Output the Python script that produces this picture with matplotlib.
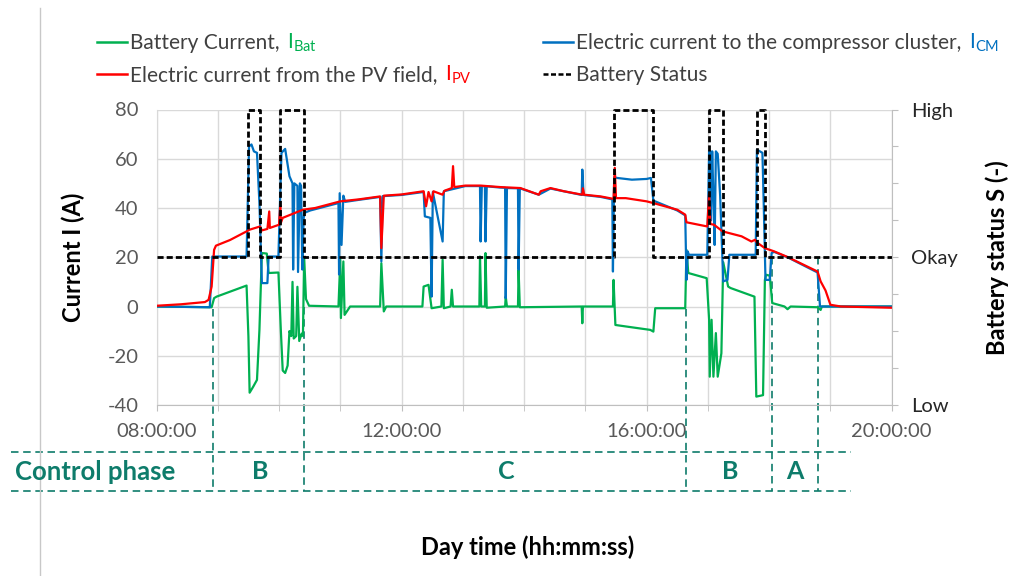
import matplotlib
matplotlib.use('Agg')
import matplotlib.pyplot as plt
from matplotlib.lines import Line2D
import numpy as np

plt.rcParams['font.family'] = ['Lato', 'DejaVu Sans']
plt.rcParams['axes.unicode_minus'] = False

# time of day in decimal hours, currents in A
t_pv = [8.00, 8.40, 8.79, 8.85, 8.90, 8.94, 8.97, 9.20, 9.47, 9.52, 9.69, 9.72,
        9.81, 9.84, 9.85, 10.00, 10.02, 10.03, 10.06, 10.39, 10.59, 11.00, 11.30,
        11.65, 11.67, 11.71, 12.00, 12.36, 12.40, 12.44, 12.49, 12.52, 12.67, 12.70,
        12.82, 12.84, 12.86, 13.04, 13.29, 13.61, 13.94, 14.24, 14.27, 14.43, 14.65,
        14.95, 14.96, 14.98, 15.25, 15.46, 15.48, 15.50, 15.66, 16.00, 16.11, 16.50,
        16.63, 16.65, 16.99, 17.02, 17.04, 17.10, 17.24, 17.55, 17.71, 17.77, 17.80,
        17.93, 18.08, 18.30, 18.79, 18.84, 18.92, 19.00, 19.17, 20.00]
i_pv = [0.3, 0.9, 1.8, 2.7, 8.1, 23.0, 24.7, 27.0, 30.5, 31.2, 32.5, 30.9,
        31.5, 38.6, 31.9, 33.2, 41.0, 34.0, 36.0, 39.3, 40.0, 42.7, 43.5,
        44.7, 23.7, 45.0, 45.5, 46.8, 40.7, 46.5, 42.7, 46.8, 45.4, 47.0,
        48.1, 57.0, 48.5, 49.1, 49.1, 48.5, 48.1, 45.4, 46.8, 48.1, 46.8,
        45.4, 48.0, 45.4, 44.7, 43.7, 56.3, 44.0, 44.0, 42.7, 42.0, 39.3,
        37.3, 34.2, 32.5, 46.0, 33.5, 33.2, 30.5, 28.5, 26.4, 27.1, 26.0,
        23.7, 22.4, 20.1, 14.2, 10.2, 6.5, 0.7, 0.0, -0.5]

t_cm = [8.00, 8.87, 8.91, 9.47, 9.51, 9.55, 9.59, 9.64, 9.68, 9.72, 9.81, 9.83,
        9.99, 10.04, 10.10, 10.17, 10.22, 10.23, 10.25, 10.30, 10.31, 10.34, 10.36,
        10.38, 10.40, 10.41, 10.51, 10.97, 10.98, 10.99, 11.02, 11.05, 11.08, 11.30,
        11.65, 11.67, 11.69, 12.00, 12.36, 12.38, 12.47, 12.49, 12.51, 12.67, 12.69,
        13.04, 13.28, 13.29, 13.31, 13.36, 13.37, 13.39, 13.61, 13.69, 13.70, 13.72,
        13.90, 13.91, 13.93, 14.24, 14.43, 14.94, 14.95, 14.97, 15.25, 15.44, 15.45,
        15.47, 15.52, 15.76, 16.00, 16.07, 16.11, 16.50, 16.63, 16.65, 16.67, 16.69,
        16.99, 17.02, 17.04, 17.05, 17.07, 17.09, 17.11, 17.13, 17.16, 17.20, 17.25,
        17.32, 17.35, 17.78, 17.80, 17.89, 17.91, 17.94, 18.01, 18.04, 18.08, 18.30,
        18.79, 18.83, 20.00]
i_cm = [0.0, -0.3, 20.3, 20.3, 65.0, 65.8, 63.0, 62.4, 42.0, 9.5, 9.5, 20.3,
        20.3, 62.4, 64.0, 52.9, 50.0, 15.0, 50.0, 49.0, 14.0, 50.0, 49.0,
        15.0, 35.0, 38.0, 39.0, 42.0, 13.0, 46.0, 25.0, 45.0, 42.5, 43.3,
        44.5, 18.3, 44.8, 45.3, 46.5, 36.6, 36.0, 4.0, 46.5, 26.4, 46.8,
        48.9, 48.9, 26.4, 48.9, 48.8, 26.4, 48.8, 48.3, 48.2, 3.4, 48.1,
        48.0, 15.0, 48.0, 45.4, 47.9, 45.3, 55.6, 45.3, 44.5, 43.5, 14.2,
        52.5, 52.2, 51.5, 51.8, 52.2, 43.0, 39.0, 37.0, 10.8, 22.4, 21.0,
        21.0, 63.0, 63.0, 35.0, 63.0, 45.0, 25.0, 63.0, 62.0, 45.0, 10.2,
        10.8, 21.0, 21.0, 63.7, 62.4, 43.0, 10.8, 10.8, 21.7, 22.2, 20.0,
        13.8, 0.0, 0.0]

t_bat = [8.00, 8.90, 8.94, 8.98, 9.47, 9.50, 9.52, 9.58, 9.64, 9.68, 9.72, 9.80,
         9.83, 9.99, 10.03, 10.06, 10.10, 10.14, 10.17, 10.20, 10.22, 10.24, 10.28,
         10.30, 10.33, 10.37, 10.39, 10.41, 10.44, 10.49, 10.97, 11.00, 11.01, 11.05,
         11.07, 11.16, 11.65, 11.67, 11.71, 11.75, 12.34, 12.36, 12.44, 12.49, 12.65,
         12.67, 12.69, 12.80, 12.82, 12.84, 13.27, 13.28, 13.30, 13.36, 13.37, 13.39,
         13.69, 13.70, 13.72, 13.90, 13.91, 13.93, 14.94, 14.95, 14.96, 15.45, 15.46,
         15.49, 15.66, 16.06, 16.11, 16.14, 16.63, 16.65, 16.68, 16.98, 17.02, 17.03,
         17.06, 17.09, 17.13, 17.16, 17.22, 17.25, 17.33, 17.37, 17.76, 17.79, 17.90,
         17.93, 17.95, 18.01, 18.05, 18.25, 18.30, 18.35, 18.79, 18.81, 18.84, 18.86,
         20.00]
i_bat = [0.0, -0.3, 3.4, 4.0, 8.5, -12.0, -35.0, -32.5, -29.8, -9.5, 21.7, 21.5,
         13.6, 13.8, -10.0, -26.0, -27.0, -24.0, -10.0, -12.0, 10.0, -13.0, -12.0,
         8.0, -14.0, -11.0, -12.0, 20.0, 3.0, 0.3, 0.0, 19.0, -4.7, 18.3,
         -3.4, 0.0, 0.0, 17.6, -2.0, 0.0, 0.0, 8.1, 8.8, -0.7, 0.0,
         19.0, -0.7, 0.0, 6.8, 0.0, 0.0, 20.3, 0.0, 0.0, 21.7, -0.5,
         0.0, 4.0, 0.0, 0.0, 15.0, -0.3, 0.0, -6.8, 0.0, 0.0, 10.8,
         -7.5, -8.1, -9.5, -10.2, -0.7, -0.7, 23.0, 13.6, 11.5, -5.4, -28.5,
         -5.4, -28.5, -10.8, -28.5, -19.0, 18.0, 8.1, 7.5, 4.0, -36.6, -36.0,
         10.8, 12.9, 12.5, 1.4, 0.0, -1.1, 0.0, -0.3, -0.7, -1.4, 0.0,
         0.0]

# battery status: 0 = Low, 1 = Okay, 2 = High
t_status = [8.00, 9.49, 9.69, 10.02, 10.40, 15.46, 16.10, 17.02, 17.25, 17.80, 17.94, 20.00]
status = [1, 2, 1, 2, 1, 2, 1, 2, 1, 2, 1, 1]

phase_bounds = [8.93, 10.41, 16.65, 18.05, 18.80]
phase_tops = [-1, 0, -1, 20, 20]
phase_names = ['B', 'C', 'B', 'A']
phase_name_x = [9.69, 13.71, 17.36, 18.42]

x_ticks = [8, 12, 16, 20]
x_labels = ['08:00:00', '12:00:00', '16:00:00', '20:00:00']
y_ticks = [-40, -20, 0, 20, 40, 60, 80]
status_labels = ['Low', '', '', '', 'Okay', '', '', '', 'High']

GREEN = '#00B050'
RED = '#FF0000'
BLUE = '#0070C0'
TEAL = '#0E7C6B'

W, H = 1011, 576
fig = plt.figure(figsize=(W / 100, H / 100), dpi=100)
ax = fig.add_axes([156.5 / W, 1 - 405 / H, (891.7 - 156.5) / W, (405 - 109.5) / H])
ax2 = ax.twinx()

ax.plot(t_bat, i_bat, color=GREEN, lw=1.6, zorder=3)
ax.plot(t_cm, i_cm, color=BLUE, lw=1.6, zorder=4)
ax.plot(t_pv, i_pv, color=RED, lw=1.6, zorder=5)
ax2.plot(t_status, status, color='black', lw=2, ls=(0, (2.2, 1.1)),
         drawstyle='steps-post', clip_on=False)

# control phase band below the axes
teal_ls = (0, (4.5, 2.8))
for tb, top in zip(phase_bounds, phase_tops):
    ax.plot([tb, tb], [top, -75], color=TEAL, lw=1.2, ls=teal_ls, clip_on=False, zorder=2)
for yb in [-59.1, -75.0]:
    ax.plot([5.63, 19.33], [yb, yb], color=TEAL, lw=1.2, ls=teal_ls, clip_on=False)
for name, xn in zip(phase_names, phase_name_x):
    ax.text(xn, -67.2, name, color=TEAL, fontsize=18, fontweight='bold',
            ha='center', va='center', clip_on=False)
fig.text(95 / W, 1 - 472 / H, 'Control phase', color=TEAL, fontsize=18.5,
         fontweight='bold', ha='center', va='center')

ax.set_xlim(8, 20)
ax.set_ylim(-40, 80)
ax2.set_ylim(0, 2)

ax.set_xticks(x_ticks)
ax.set_xticklabels(x_labels)
ax.set_xticks(range(8, 21), minor=True)
ax.set_yticks(y_ticks)
ax.grid(which='both', color='#d9d9d9', lw=1)
ax.set_axisbelow(True)
ax.tick_params(axis='y', length=0, pad=13, labelsize=14.5, labelcolor='#595959')
ax.tick_params(axis='x', which='both', length=4, color='#bfbfbf', pad=9,
               labelsize=14.5, labelcolor='#595959')

ax2.set_yticks(np.linspace(0, 2, 9))
ax2.set_yticklabels(status_labels)
ax2.tick_params(axis='y', length=4, color='#bfbfbf', pad=10, labelsize=14.5,
                labelcolor='#262626')

for s in ['top', 'right']:
    ax.spines[s].set_visible(False)
ax.spines['left'].set_color('#d9d9d9')
ax.spines['bottom'].set_color('#bfbfbf')
for s in ['top', 'left', 'bottom']:
    ax2.spines[s].set_visible(False)
ax2.spines['right'].set_color('#bfbfbf')

ax.set_ylabel('Current I (A)', fontsize=17, fontweight='bold', color='black')
ax.yaxis.set_label_coords((85 - 156.5) / 735.2, 0.5)
ax2.set_ylabel('Battery status S (-)', fontsize=17, fontweight='bold', color='black',
               rotation=90)
ax2.yaxis.set_label_coords((985 - 156.5) / 735.2, 0.5)
fig.text(528 / W, 1 - 547 / H, 'Day time (hh:mm:ss)', fontsize=17, fontweight='bold',
         ha='center', va='center')

# thin grey frame line on the left
fig.add_artist(Line2D([40 / W, 40 / W], [0, 1 - 8 / H], color='#c8c8c8', lw=1))

# legend, two columns
h_bat = Line2D([], [], color=GREEN, lw=1.8)
h_pv = Line2D([], [], color=RED, lw=1.8)
h_cm = Line2D([], [], color=BLUE, lw=1.8)
h_st = Line2D([], [], color='black', lw=1.8, ls=(0, (2.0, 1.0)))
leg_kw = dict(loc='upper left', frameon=False, fontsize=15, handlelength=1.45,
              handletextpad=0.15, labelspacing=0.58, borderpad=0, borderaxespad=0,
              labelcolor='#404040')
leg1 = fig.legend([h_bat, h_pv], ['Battery Current,', 'Electric current from the PV field,'],
                  bbox_to_anchor=(97 / W, 1 - 33 / H), **leg_kw)
leg2 = fig.legend([h_cm, h_st], ['Electric current to the compressor cluster,', 'Battery Status'],
                  bbox_to_anchor=(543 / W, 1 - 33 / H), **leg_kw)

fig.canvas.draw()
r = fig.canvas.get_renderer()
subs = [(leg1.get_texts()[0], 'Bat', GREEN),
        (leg1.get_texts()[1], 'PV', RED),
        (leg2.get_texts()[0], 'CM', BLUE)]
for txt, sub, col in subs:
    bb = txt.get_window_extent(r)
    _, _, d = r.get_text_width_height_descent('Battery', txt.get_fontproperties(), ismath=False)
    fig.text((bb.x1 + 7) / W, (bb.y0 + d) / H, r'$\mathregular{I_{%s}}$' % sub,
             color=col, fontsize=15, va='baseline', ha='left')

fig.savefig('out.png', dpi=100)
